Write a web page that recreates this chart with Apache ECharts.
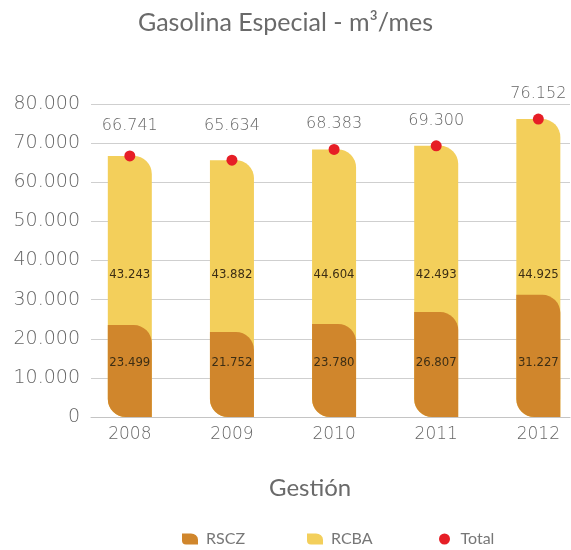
<!DOCTYPE html>
<html>
<head>
<meta charset="utf-8">
<script src="https://cdn.jsdelivr.net/npm/echarts@6/dist/echarts.min.js"></script>
<style>
  html, body { margin: 0; padding: 0; background: #fff; }
  #container { width: 571px; height: 550px; }
</style>
</head>
<body>
<div id="container"></div>
<script>
var years = ['2008', '2009', '2010', '2011', '2012'];
var rscz = [23499, 21752, 23780, 26807, 31227];
var rcba = [43243, 43882, 44604, 42493, 44925];
var totals = [66741, 65634, 68383, 69300, 76152];

var C_RSCZ = '#D0862C';
var C_RCBA = '#F3CF5B';
var C_TOTAL = '#E61E26';
var NUM_FONT = "'DejaVu Sans', sans-serif";
var LEAF = 'path://M0,0 H9 A7,6 0 0 1 16,6 V11 H4 A4,4 0 0 1 0,7 Z';

function fmt(v) {
    return String(v).replace(/\B(?=(\d{3})+(?!\d))/g, '.');
}

// x is a value axis so the bars can sit off-centre like the original
function pts(arr) {
    return arr.map(function (v, i) { return [i, v]; });
}

function legendAt(name, icon, left) {
    return {
        data: [{ name: name, icon: icon }],
        top: 526,
        left: left,
        itemWidth: 16,
        itemHeight: 11,
        textStyle: { color: '#777', fontSize: 16, fontFamily: 'Lato, sans-serif', padding: [0, 0, 0, 3] }
    };
}

var element = document.getElementById('container');
var myChart = echarts.init(element);

var innerLabel = {
    show: true,
    color: '#3d2e14',
    fontSize: 13,
    fontFamily: "'DejaVu Sans Condensed', sans-serif"
};

var option = {
    backgroundColor: '#fff',
    animation: false,
    title: [{
        text: 'Gasolina Especial - m³/mes',
        left: 'center',
        top: 5,
        textStyle: { color: '#6a6a6a', fontSize: 25, fontWeight: 'normal', fontFamily: 'Lato, sans-serif' }
    }, {
        text: 'Gestión',
        left: 264,
        top: 471,
        textStyle: { color: '#6a6a6a', fontSize: 24, fontWeight: 'normal', fontFamily: 'Lato, sans-serif' }
    }],
    legend: [
        legendAt('RSCZ', LEAF, 177),
        legendAt('RCBA', LEAF, 302),
        legendAt('Total', 'circle', 434)
    ],
    grid: { left: 91, right: 1, top: 104, bottom: 133 },
    xAxis: {
        type: 'value',
        min: -0.38,
        max: 4.31,
        splitLine: { show: false },
        axisTick: { show: false },
        axisLine: { show: true, lineStyle: { color: '#c4c4c4' } },
        axisLabel: {
            customValues: [0, 1, 2, 3, 4],
            formatter: function (v) { return years[v]; },
            color: '#666',
            fontSize: 17,
            fontWeight: 200,
            margin: 9,
            fontFamily: NUM_FONT
        }
    },
    yAxis: {
        type: 'value',
        min: 0,
        max: 80000,
        interval: 10000,
        axisLine: { show: false },
        axisTick: { show: false },
        splitLine: { lineStyle: { color: '#cfcfcf', width: 1 } },
        axisLabel: {
            formatter: function (v) { return fmt(v); },
            color: '#666',
            fontSize: 19,
            fontWeight: 200,
            margin: 11,
            fontFamily: NUM_FONT
        }
    },
    series: [{
        // yellow column runs to the total; RSCZ is drawn over its lower part
        name: 'RCBA',
        type: 'bar',
        data: pts(totals),
        barWidth: 44,
        barGap: '-100%',
        z: 2,
        itemStyle: { color: C_RCBA, borderRadius: [0, 18, 0, 18] },
        label: Object.assign({ formatter: function (p) { return fmt(rcba[p.dataIndex]); } }, innerLabel),
        labelLayout: function () { return { y: 275, align: 'center', verticalAlign: 'middle' }; }
    }, {
        name: 'RSCZ',
        type: 'bar',
        data: pts(rscz),
        barWidth: 44,
        barGap: '-100%',
        z: 3,
        itemStyle: { color: C_RSCZ, borderRadius: [0, 18, 0, 18] },
        label: Object.assign({ formatter: function (p) { return fmt(p.value[1]); } }, innerLabel),
        labelLayout: function () { return { y: 363, align: 'center', verticalAlign: 'middle' }; }
    }, {
        name: 'Total',
        type: 'scatter',
        data: pts(totals),
        symbolSize: 11,
        z: 5,
        itemStyle: { color: C_TOTAL, opacity: 1 },
        label: {
            show: true,
            position: 'top',
            formatter: function (p) { return fmt(p.value[1]); },
            color: '#666',
            fontSize: 16,
            fontWeight: 200,
            fontFamily: NUM_FONT
        },
        labelLayout: function (p) {
            return { y: Math.min(126, p.rect.y - 20), align: 'center', verticalAlign: 'middle' };
        }
    }]
};

myChart.setOption(option);
</script>
</body>
</html>
